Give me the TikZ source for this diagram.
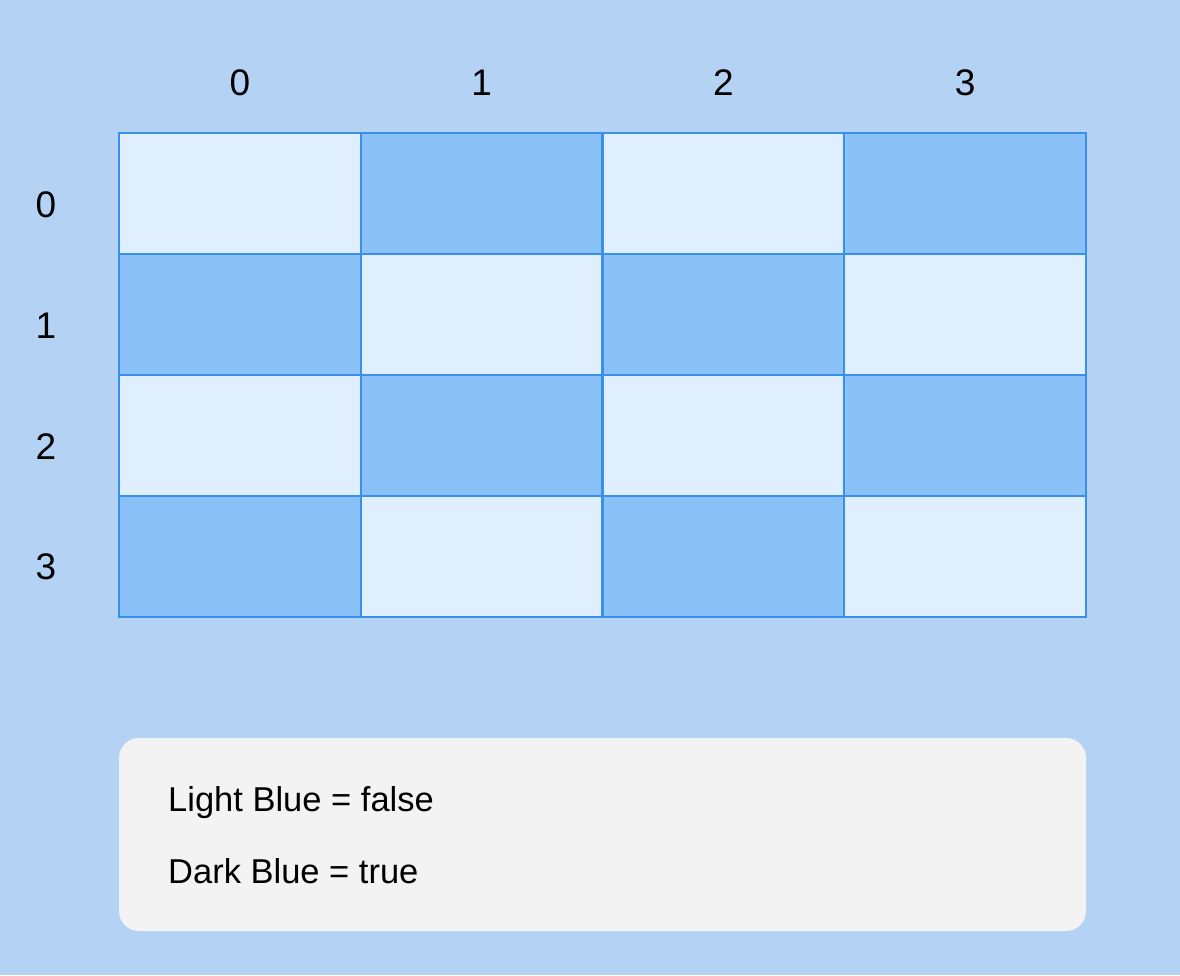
\documentclass[tikz,border=0pt]{standalone}
\usepackage{fontspec}
\setmainfont{Liberation Sans}
\definecolor{bgc}{HTML}{B3D2F4}
\definecolor{lightc}{HTML}{E0EFFD}
\definecolor{darkc}{HTML}{8AC2F8}
\definecolor{edgec}{HTML}{3990EB}
\definecolor{legc}{HTML}{F3F3F3}
\tikzset{
  cellbox/.style={rectangle, draw=edgec, line width=2.4pt, inner sep=0pt,
    minimum width=241.75pt, minimum height=121pt},
  lightcell/.style={cellbox, fill=lightc},
  darkcell/.style={cellbox, fill=darkc},
  idx/.style={inner sep=0pt, font=\fontsize{37}{40}\selectfont},
  legtext/.style={inner sep=0pt, anchor=base west, font=\fontsize{34.5}{38}\selectfont},
}
\begin{document}
\begin{tikzpicture}[x=1pt,y=-1pt]
\fill[bgc] (0,0) rectangle (1180,975);
\useasboundingbox (0,0) rectangle (1180,975);
% cells
\foreach \r in {0,...,3}{
  \foreach \c in {0,...,3}{
    \pgfmathtruncatemacro{\myparity}{mod(\r+\c,2)}
    \ifnum\myparity=0
      \node[lightcell] (c\r\c) at ({119+241.75*(\c+0.5)},{133+121*(\r+0.5)}) {};
    \else
      \node[darkcell] (c\r\c) at ({119+241.75*(\c+0.5)},{133+121*(\r+0.5)}) {};
    \fi
  }
}
% column labels
\foreach \c in {0,...,3}{
  \node[idx] (col\c) at ({119+241.75*(\c+0.5)},83) {\c};
}
% row labels
\foreach \r in {0,...,3}{
  \node[idx] (row\r) at (46,{205+120.7*\r}) {\r};
}
% legend
\node[fill=legc, rounded corners=20pt, minimum width=967pt, minimum height=193pt, inner sep=0pt] (legend) at (602.5,834.5) {};
\node[legtext] (leg1) at (168,811) {Light Blue = false};
\node[legtext] (leg2) at (168,883) {Dark Blue = true};
\end{tikzpicture}
\end{document}
